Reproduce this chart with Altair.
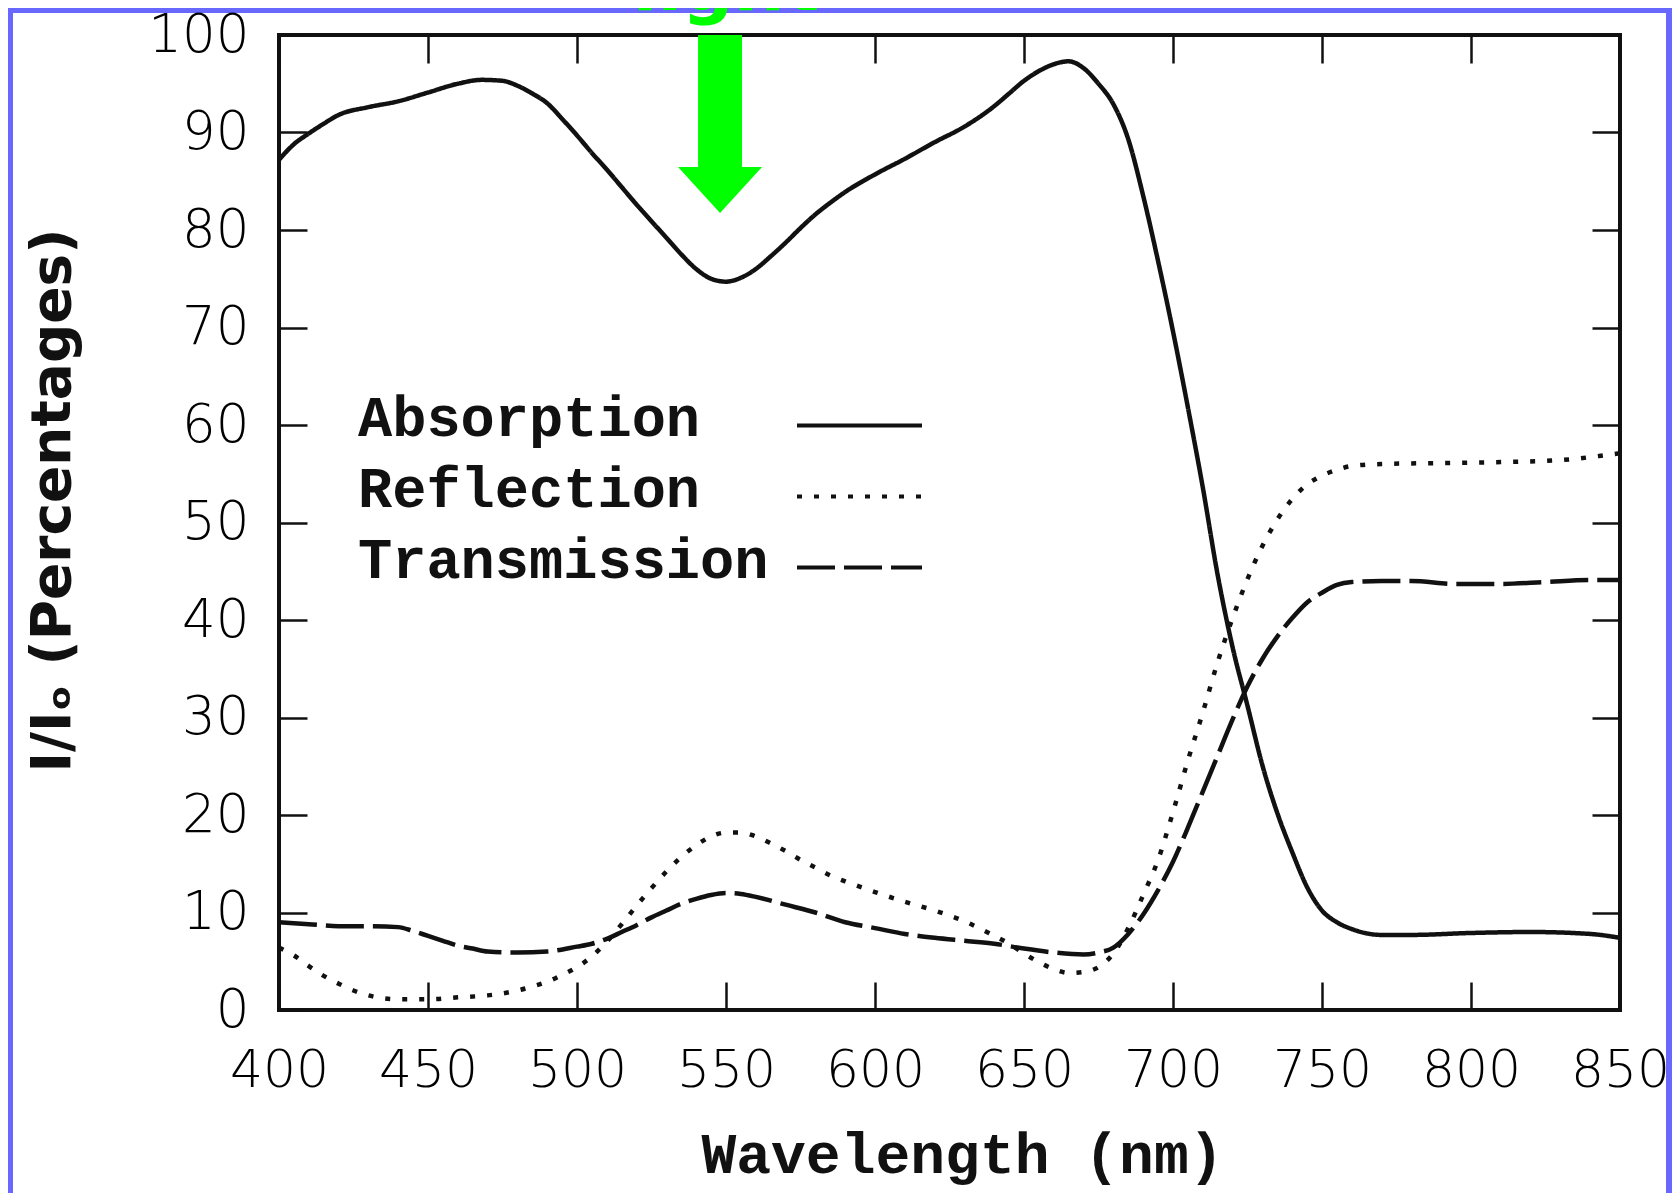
import altair as alt
import pandas as pd

# ---------------- data ----------------
series_names = ["Absorption", "Reflection", "Transmission"]

abs_nm = [400, 405, 410, 415, 420, 430, 440, 450, 460, 468, 475, 480, 485, 490, 495,
          500, 505, 510, 515, 520, 525, 530, 535, 540, 545, 550, 555, 560, 565, 570,
          575, 580, 585, 590, 600, 610, 620, 630, 640, 645, 650, 655, 660, 665, 670,
          675, 680, 685, 690, 695, 700, 705, 710, 715, 720, 725, 730, 735, 740, 745,
          750, 755, 760, 770, 780, 800, 820, 840, 850]
abs_val = [87.2, 88.8, 89.9, 90.9, 91.8, 92.6, 93.2, 94.1, 95.0, 95.4, 95.3, 94.8, 94.0, 93.0, 91.4,
           89.7, 87.9, 86.2, 84.4, 82.6, 80.9, 79.2, 77.5, 76.0, 75.0, 74.7, 75.1, 76.0, 77.3, 78.7,
           80.2, 81.6, 82.8, 83.9, 85.7, 87.3, 89.0, 90.6, 92.7, 94.0, 95.3, 96.3, 97.0, 97.3, 96.6,
           95.0, 92.9, 89.3, 83.5, 76.8, 69.6, 61.8, 53.6, 44.6, 37.2, 31.2, 25.1, 20.2, 16.2, 12.6,
           10.2, 9.0, 8.3, 7.7, 7.7, 7.9, 8.0, 7.8, 7.4]

ref_nm = [400, 405, 410, 415, 420, 425, 430, 440, 450, 460, 470, 475, 480, 485, 490, 495,
          500, 505, 510, 515, 520, 525, 530, 535, 540, 545, 550, 555, 560, 565, 570, 575,
          580, 585, 590, 600, 610, 620, 630, 640, 645, 650, 655, 660, 665, 670, 675, 680,
          685, 690, 695, 700, 705, 710, 715, 720, 725, 730, 735, 740, 745, 750, 755, 760,
          770, 790, 810, 830, 845, 850]
ref_val = [6.4, 5.6, 4.5, 3.5, 2.7, 2.0, 1.5, 1.1, 1.1, 1.3, 1.5, 1.7, 2.0, 2.4, 2.9, 3.6,
           4.4, 5.5, 7.0, 8.8, 10.7, 12.5, 14.2, 15.7, 16.9, 17.8, 18.2, 18.2, 17.8, 17.1, 16.3, 15.4,
           14.6, 13.8, 13.2, 12.1, 11.1, 10.2, 9.1, 7.6, 6.8, 5.8, 4.9, 4.2, 3.8, 3.9, 4.4, 5.8,
           8.4, 11.8, 15.4, 20.3, 25.6, 30.5, 35.7, 40.2, 44.2, 47.6, 50.3, 52.4, 53.9, 54.8, 55.4, 55.8,
           56.0, 56.1, 56.2, 56.4, 56.9, 57.1]

tra_nm = [400, 410, 420, 430, 440, 445, 450, 455, 460, 465, 470, 480, 490, 500, 505, 510,
          515, 520, 525, 530, 535, 540, 545, 550, 555, 560, 570, 580, 590, 600, 610, 620,
          630, 640, 650, 660, 670, 675, 680, 685, 690, 695, 700, 705, 710, 715, 720, 725,
          730, 735, 740, 745, 750, 755, 760, 770, 780, 795, 810, 825, 840, 850]
tra_val = [9.0, 8.8, 8.6, 8.6, 8.5, 8.1, 7.6, 7.1, 6.6, 6.3, 6.0, 5.9, 6.0, 6.5, 6.8, 7.3,
           8.0, 8.7, 9.5, 10.2, 10.9, 11.4, 11.8, 12.0, 11.9, 11.6, 10.8, 10.0, 9.0, 8.4, 7.8, 7.4,
           7.1, 6.8, 6.3, 5.9, 5.7, 5.9, 6.4, 7.8, 9.8, 12.3, 15.2, 18.7, 22.4, 26.1, 29.8, 33.2,
           36.0, 38.3, 40.2, 41.8, 42.8, 43.6, 43.9, 44.0, 44.0, 43.7, 43.7, 43.9, 44.1, 44.1]

x_ticks = [400, 450, 500, 550, 600, 650, 700, 750, 800, 850]
y_ticks = [0, 10, 20, 30, 40, 50, 60, 70, 80, 90, 100]

# green arrow annotation (pointing at the absorption dip) and its clipped caption
arrow_x = [548]
arrow_y = [90.87]
note_x = [550]
note_y = [102.56]
note_text = ["light"]

# ---------------- tables ----------------
rows = []
for name, xs_, ys_ in zip(series_names, [abs_nm, ref_nm, tra_nm], [abs_val, ref_val, tra_val]):
    for a, b in zip(xs_, ys_):
        rows.append({"nm": a, "val": b, "series": name})
lines_df = pd.DataFrame(rows)
arrow_df = pd.DataFrame({"x": arrow_x, "y": arrow_y})
note_df = pd.DataFrame({"x": note_x, "y": note_y, "t": note_text})

INK = "#111111"
GREEN = "#00ff00"
BLUE = "#6868ff"
W, H = 1341, 975
PAD = {"left": 271, "top": 27, "right": 52, "bottom": 183}
TICK = 28

xs = alt.Scale(domain=[400, 850], nice=False, zero=False)
ys = alt.Scale(domain=[0, 100], nice=False, zero=False)

tick_style = dict(tickSize=TICK, offset=-TICK, tickWidth=2.5, tickColor=INK,
                  domain=False, grid=False)

# blue picture frame strips (outside the plot)
one = pd.DataFrame({"k": [0]})
strip_left = alt.Chart(one).mark_rect(color=BLUE).encode(
    x=alt.value(-PAD["left"]), x2=alt.value(-PAD["left"] + 5),
    y=alt.value(-PAD["top"]), y2=alt.value(H + PAD["bottom"]))
strip_top = alt.Chart(one).mark_rect(color=BLUE).encode(
    x=alt.value(-PAD["left"]), x2=alt.value(W + PAD["right"]),
    y=alt.value(-PAD["top"]), y2=alt.value(-PAD["top"] + 5))
strip_right = alt.Chart(one).mark_rect(color=BLUE).encode(
    x=alt.value(W + PAD["right"] - 6), x2=alt.value(W + PAD["right"]),
    y=alt.value(-PAD["top"]), y2=alt.value(H + PAD["bottom"]))

lines = alt.Chart(lines_df).mark_line(
    color=INK, strokeWidth=4.5, interpolate="monotone", strokeCap="butt"
).encode(
    x=alt.X("nm:Q", scale=xs, axis=alt.Axis(
        orient="bottom", values=x_ticks, format="d", zindex=1, **tick_style,
        labelFont="DejaVu Sans", labelFontSize=52, labelFontWeight=300, labelColor="#000",
        labelPadding=35, labelFlush=False, labelOverlap=False,
        title="Wavelength (nm)", titleFont="Liberation Mono", titleFontSize=58,
        titleFontWeight="bold", titleColor=INK, titlePadding=30, titleX=683)),
    y=alt.Y("val:Q", scale=ys, axis=alt.Axis(
        orient="left", values=y_ticks, format="d", zindex=1, **tick_style,
        labelFont="DejaVu Sans", labelFontSize=53, labelFontWeight=300, labelColor="#000",
        labelPadding=30, labelFlush=False, labelOverlap=False,
        title="I/Iₒ (Percentages)", titleFont="DejaVu Sans", titleFontSize=55,
        titleFontWeight="bold", titleColor=INK, titlePadding=66, titleY=465)),
    strokeDash=alt.StrokeDash("series:N", scale=alt.Scale(
        domain=series_names, range=[[1, 0], [5, 12], [38, 9]]),
        legend=alt.Legend(
            title=None, orient="none", legendX=547, legendY=350, direction="vertical",
            symbolType="M-2,0.22L2,0.22", symbolSize=3906, symbolStrokeWidth=4,
            symbolFillColor="transparent",
            symbolStrokeColor=INK, labelFont="Liberation Mono", labelFontSize=57,
            labelFontWeight="bold", labelColor=INK, labelOffset={"expr": "-535"},
            labelAlign="left", labelLimit=900, rowPadding=9, padding=0)),
)

arrow = alt.Chart(arrow_df).mark_point(
    shape="M-0.247,-1L0.247,-1L0.247,0.483L0.472,0.483L0,1L-0.472,0.483L-0.247,0.483Z",
    filled=True, size=31684, color=GREEN, opacity=1, strokeWidth=0
).encode(
    x=alt.X("x:Q", scale=xs, axis=alt.Axis(orient="top", values=x_ticks, labels=False,
                                           title=None, **tick_style)),
    y=alt.Y("y:Q", scale=ys, axis=alt.Axis(orient="right", values=y_ticks, labels=False,
                                           title=None, **tick_style)),
)

note = alt.Chart(note_df).mark_text(
    font="DejaVu Sans", fontSize=72, fontWeight="bold", color=GREEN,
    baseline="alphabetic", align="center"
).encode(
    x=alt.X("x:Q", scale=xs, axis=None),
    y=alt.Y("y:Q", scale=ys, axis=None),
    text="t:N",
)

chart = alt.layer(strip_left, strip_top, strip_right, lines, arrow, note).resolve_axis(
    x="independent", y="independent"
).properties(
    width=W, height=H, padding=PAD, autosize=alt.AutoSizeParams(type="none")
).configure_view(
    stroke=INK, strokeWidth=4
)

chart.save("out.html", embed_options={"renderer": "svg", "actions": False})
